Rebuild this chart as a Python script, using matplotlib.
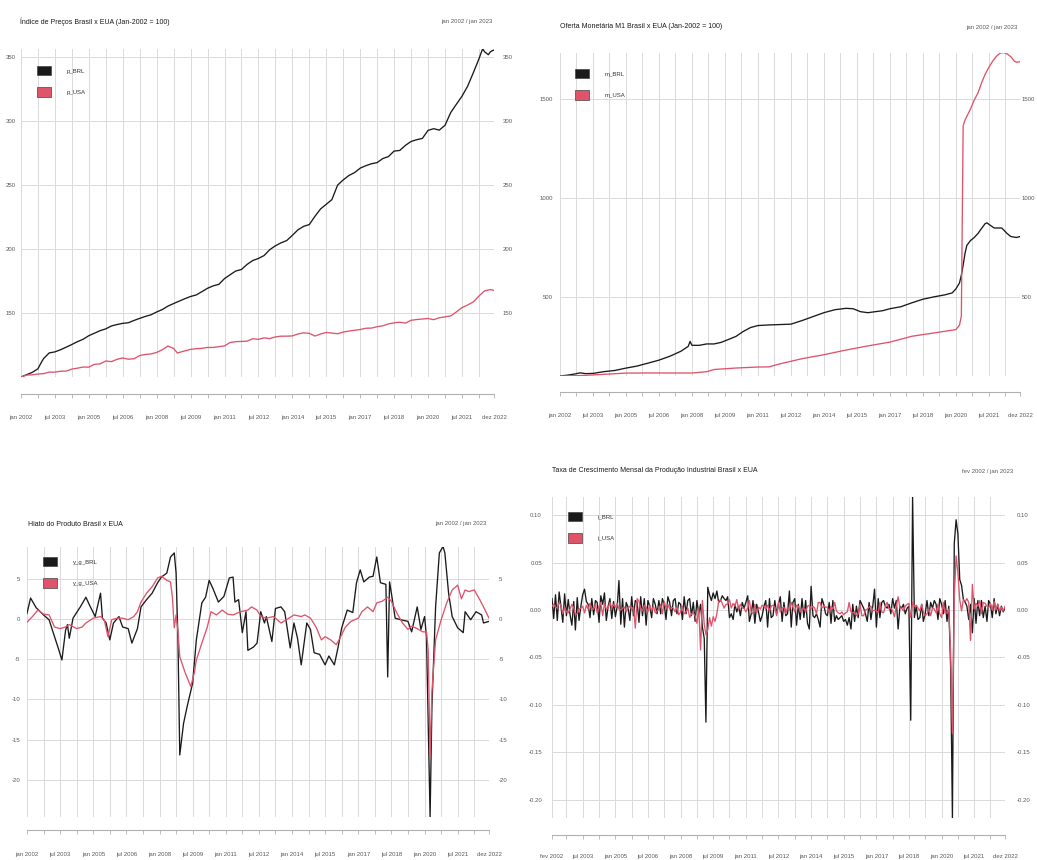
import matplotlib
matplotlib.use("Agg")
import matplotlib.pyplot as plt
import matplotlib.dates as mdates
from matplotlib import font_manager as fm
from matplotlib.patches import Patch
import pandas as pd

# ---------------------------------------------------------------- data
MESES = ['jan', 'fev', 'mar', 'abr', 'mai', 'jun', 'jul', 'ago', 'set', 'out', 'nov', 'dez']

# Panel 1: price indices (month index from jan 2002, value)
p_BRL = [(0, 100), (3, 101.8), (6, 103.6), (9, 106.4), (11, 111.9), (12, 114.4), (15, 118.8), (18, 119.6),
         (21, 121.3), (24, 123.3), (27, 125.4), (30, 127.6), (33, 129.5), (36, 132.3), (39, 134.2), (42, 136.2),
         (45, 137.6), (48, 139.9), (51, 141.0), (54, 141.9), (57, 142.4), (60, 144.2), (63, 145.8), (66, 147.3),
         (69, 148.6), (72, 150.8), (75, 152.7), (78, 155.4), (81, 157.4), (84, 159.3), (87, 161.2), (90, 162.9),
         (93, 164.1), (96, 166.7), (99, 169.3), (102, 171.2), (105, 172.4), (108, 176.9), (111, 179.9),
         (114, 182.8), (117, 184.0), (120, 188.0), (123, 191.0), (126, 192.6), (129, 194.9), (132, 199.5),
         (135, 202.5), (138, 204.8), (141, 206.6), (144, 210.7), (147, 215.0), (150, 217.7), (153, 219.1),
         (156, 225.6), (159, 231.3), (162, 234.9), (165, 238.6), (168, 249.9), (171, 254.0), (174, 257.4),
         (177, 259.7), (180, 263.2), (183, 265.1), (186, 266.6), (189, 267.5), (192, 270.7), (195, 272.2),
         (198, 276.5), (201, 277.0), (204, 281.0), (207, 284.0), (210, 285.4), (213, 286.4), (216, 292.7),
         (219, 294.0), (222, 292.9), (225, 296.7), (228, 306.6), (231, 313.0), (234, 319.3), (237, 327.2),
         (240, 337.7), (243, 348.5), (245, 356.5), (246, 354.1), (248, 351.8), (249, 353.9), (250, 354.9),
         (251, 355.4)]
p_USA = [(0, 100), (3, 101.5), (6, 101.7), (9, 102.3), (12, 102.6), (15, 103.8), (18, 103.8), (21, 104.5),
         (24, 104.6), (27, 106.2), (30, 106.9), (33, 107.8), (36, 107.7), (39, 109.9), (42, 110.3), (45, 112.5),
         (48, 112.0), (51, 113.8), (54, 114.9), (57, 113.9), (60, 114.3), (63, 116.7), (66, 117.6), (69, 118.0),
         (72, 119.2), (75, 121.3), (78, 124.2), (81, 122.3), (83, 118.7), (84, 119.2), (87, 120.4), (90, 121.6),
         (93, 122.1), (96, 122.4), (99, 123.1), (102, 123.1), (105, 123.7), (108, 124.3), (111, 127.0),
         (114, 127.6), (117, 127.8), (120, 128.0), (123, 129.9), (126, 129.4), (129, 130.6), (132, 130.0),
         (135, 131.3), (138, 131.9), (141, 131.9), (144, 132.1), (147, 133.6), (150, 134.5), (153, 134.1),
         (156, 132.0), (159, 133.6), (162, 134.8), (165, 134.3), (168, 133.8), (171, 135.1), (174, 135.9),
         (177, 136.5), (180, 137.1), (183, 138.1), (186, 138.2), (189, 139.3), (192, 140.0), (195, 141.5),
         (198, 142.3), (201, 142.8), (204, 142.1), (207, 144.3), (210, 144.9), (213, 145.3), (216, 145.7),
         (219, 144.8), (222, 146.3), (225, 147.0), (228, 147.7), (231, 150.8), (234, 154.2), (237, 156.2),
         (240, 158.7), (243, 163.2), (246, 167.3), (249, 168.3), (251, 167.6)]

# Panel 2: M1 money supply
m_BRL = [(0, 100), (4, 104), (8, 110), (11, 116), (14, 112), (18, 113), (24, 122), (30, 128), (36, 140),
         (42, 150), (48, 165), (54, 180), (60, 200), (66, 225), (70, 250), (71, 275), (72, 255), (76, 255),
         (80, 262), (84, 262), (88, 270), (92, 285), (96, 300), (100, 325), (104, 345), (108, 355), (114, 358),
         (120, 360), (126, 362), (132, 380), (138, 400), (144, 420), (150, 435), (156, 442), (160, 440),
         (164, 425), (168, 420), (172, 425), (176, 430), (180, 440), (186, 450), (192, 470), (198, 488),
         (204, 500), (210, 510), (214, 520), (216, 540), (218, 570), (219, 610), (220, 660), (221, 720),
         (222, 760), (224, 785), (226, 800), (228, 820), (230, 845), (232, 870), (233, 874), (235, 860),
         (237, 848), (241, 848), (244, 820), (246, 805), (249, 800), (251, 805)]
m_USA = [(0, 100), (12, 102.5), (24, 108.4), (36, 114.7), (48, 115.5), (60, 115.1), (72, 115.1), (80, 121.8),
         (84, 132.8), (96, 140.3), (108, 145.4), (114, 146.0), (120, 161.3), (132, 187.4), (144, 207.6),
         (156, 231.1), (168, 252.1), (180, 271.4), (192, 300.8), (204, 317.6), (216, 334.5), (218, 357),
         (219, 402.5), (220, 1365), (221, 1394), (224, 1450), (226, 1495), (228, 1530), (230, 1580),
         (232, 1625), (234, 1660), (236, 1690), (238, 1715), (240, 1731), (242, 1735), (244, 1728),
         (246, 1714), (248, 1690), (249, 1686), (251, 1688)]

# Panel 3: output gap
y_g_BRL = [(0, 0.7), (2, 2.6), (5, 1.4), (9, 0.5), (12, -0.1), (15, -2.2), (17, -3.6), (19, -5.1), (21, -1.4),
           (22, -0.7), (23, -2.4), (25, 0.1), (29, 1.5), (32, 2.7), (34, 1.7), (37, 0.3), (40, 3.2), (41, 0.1),
           (43, -0.5), (45, -2.6), (47, -0.5), (50, 0.3), (52, -1.0), (55, -1.2), (57, -3.0), (60, -1.2),
           (62, 1.5), (65, 2.4), (68, 3.2), (71, 4.5), (73, 5.2), (76, 5.7), (78, 7.7), (80, 8.2), (81, 5.7),
           (82, -2.6), (83, -16.9), (85, -13.0), (87, -10.9), (90, -8.0), (92, -2.6), (95, 2.0), (97, 2.7),
           (99, 4.8), (101, 3.8), (104, 2.1), (107, 2.8), (110, 5.1), (112, 5.2), (113, 2.1), (115, 2.4),
           (117, -1.7), (119, 0.9), (120, -3.9), (123, -3.5), (125, -3.0), (127, 0.9), (129, -0.5), (130, 0.3),
           (133, -2.8), (135, 1.3), (138, 1.5), (140, 0.9), (143, -3.6), (145, -0.5), (147, -2.4), (149, -5.7),
           (152, -0.5), (154, -1.3), (156, -4.2), (159, -4.4), (162, -5.7), (164, -4.6), (167, -5.7),
           (169, -3.5), (171, -1.1), (174, 1.1), (177, 0.8), (179, 4.5), (181, 6.1), (183, 4.6), (186, 5.2),
           (188, 5.3), (190, 7.7), (192, 4.5), (195, 4.3), (196, -7.2), (197, 4.6), (198, 3.2), (200, 0.1),
           (203, -0.1), (207, -0.3), (209, -1.6), (212, 1.5), (214, -1.3), (216, 0.3), (217, -2.2),
           (219, -24.6), (220, -10.9), (222, 1.5), (224, 8.2), (226, 9.0), (227, 8.2), (229, 3.2), (231, 0.3),
           (234, -1.1), (237, -1.7), (238, 0.9), (241, -0.1), (244, 0.9), (247, 0.5), (248, -0.5), (251, -0.3)]
y_g_USA = [(0, -0.4), (3, 0.3), (6, 1.1), (9, 0.6), (12, 0.5), (15, -1.0), (18, -1.2), (21, -1.0), (23, -0.7),
           (27, -1.2), (30, -1.0), (32, -0.5), (36, 0.1), (40, 0.3), (42, -0.1), (44, -2.2), (46, -0.1),
           (49, 0.1), (52, 0.1), (55, -0.1), (58, 0.3), (60, 0.9), (62, 2.1), (65, 3.2), (68, 4.0), (71, 5.1),
           (73, 5.3), (76, 4.8), (78, 4.6), (79, 2.7), (80, -1.1), (81, 0.5), (82, -1.5), (83, -4.7),
           (86, -6.7), (89, -8.4), (91, -6.6), (92, -5.1), (95, -3.0), (98, -1.0), (100, 0.9), (103, 0.5),
           (106, 1.1), (109, 0.6), (112, 0.5), (116, 0.9), (120, 1.1), (122, 1.5), (125, 1.1), (127, 0.3),
           (130, 0.1), (134, 0.3), (138, -0.5), (141, -0.1), (145, 0.5), (149, 0.3), (151, 0.5), (154, 0.1),
           (157, -1.0), (160, -2.6), (162, -2.2), (165, -2.6), (168, -3.2), (170, -2.4), (173, -1.0),
           (176, -0.3), (180, 0.1), (182, 0.9), (185, 1.5), (188, 0.9), (190, 2.0), (193, 2.2), (196, 2.7),
           (198, 2.2), (201, 0.7), (204, -0.5), (207, -1.3), (209, -0.9), (212, -1.2), (215, -1.6),
           (217, -1.6), (218, -3.9), (219, -17.2), (220, -9.0), (222, -2.6), (225, -0.1), (228, 2.0),
           (231, 3.6), (234, 4.2), (236, 2.5), (238, 3.6), (240, 3.4), (243, 3.6), (246, 2.4), (248, 1.5),
           (251, 0.1)]

# Panel 4: monthly growth of industrial production, fev 2002 .. dez 2022 (one value per month)
i_BRL = [
    0.012, -0.009, 0.016, -0.011, 0.019, 0.004, -0.013, 0.017, -0.006, 0.011, -0.005,               # 2002
    -0.016, 0.009, -0.021, 0.013, -0.011, 0.004, 0.016, 0.022, 0.009, 0.006, -0.008, 0.012,         # 2003
    -0.005, 0.010, 0.008, -0.013, 0.015, 0.006, 0.018, -0.011, 0.004, 0.012, -0.009, 0.009,         # 2004
    -0.007, 0.004, 0.031, -0.015, 0.012, -0.018, 0.008, 0.003, -0.011, 0.014, -0.006, 0.010,        # 2005
    0.008, -0.013, 0.014, -0.006, 0.012, -0.016, 0.010, 0.004, -0.008, 0.012, 0.006, -0.004,        # 2006
    0.010, -0.004, 0.012, 0.006, -0.010, 0.014, 0.008, -0.006, 0.010, 0.012, -0.004, 0.008,         # 2007
    0.006, -0.010, 0.014, -0.004, 0.010, 0.012, -0.006, 0.008, -0.012, 0.010, -0.004, 0.006,        # 2008
    -0.018, -0.030, -0.118, 0.024, 0.016, 0.010, 0.018, 0.012, 0.020, 0.008, 0.010, 0.015,         # 2009
    0.012, 0.010, 0.014, -0.008, -0.004, -0.010, 0.006, -0.002, 0.004, -0.006, 0.008, 0.002,        # 2010
    0.008, 0.015, -0.012, -0.004, 0.010, -0.014, 0.006, -0.002, -0.012, -0.006, 0.004, 0.010,       # 2011
    -0.018, 0.012, -0.008, -0.006, 0.010, -0.004, 0.006, 0.014, -0.012, 0.008, -0.006, -0.004,      # 2012
    0.020, -0.018, 0.008, 0.012, -0.016, 0.006, -0.010, 0.012, -0.008, 0.010, -0.014, -0.020,       # 2013
    0.025, -0.006, -0.008, -0.004, -0.010, -0.018, 0.012, 0.006, -0.004, -0.006, 0.008, -0.014,     # 2014
    0.010, -0.012, -0.006, -0.010, -0.008, -0.006, -0.012, -0.010, -0.016, -0.008, -0.020, 0.006,   # 2015
    -0.012, 0.004, -0.008, 0.010, 0.006, 0.002, -0.004, -0.012, 0.008, -0.010, 0.004, 0.022,        # 2016
    -0.018, 0.012, -0.008, 0.008, 0.010, 0.004, 0.002, 0.006, -0.004, 0.012, 0.002, 0.010,         # 2017
    -0.020, 0.004, 0.002, 0.006, -0.004, 0.002, 0.004, -0.116, 0.119, -0.008, 0.004, -0.010,        # 2018
    -0.008, 0.006, -0.012, -0.004, 0.010, -0.006, 0.008, 0.002, 0.010, 0.006, -0.010, 0.012,        # 2019
    0.006, -0.004, 0.010, -0.012, 0.004, -0.060, -0.219, 0.070, 0.095, 0.080, 0.032, 0.026,         # 2020
    0.011, 0.008, 0.004, -0.010, 0.006, -0.024, 0.012, -0.014, 0.010, -0.006, 0.010, -0.008,        # 2021
    0.004, -0.012, 0.010, 0.006, -0.008, 0.012, -0.004, 0.006, -0.006, 0.004, -0.002, 0.002,        # 2022
]
i_USA = [
    0.004, 0.006, 0.003, 0.002, 0.008, 0.005, -0.004, 0.003, -0.002, -0.003, 0.001,                # 2002
    0.006, 0.002, -0.005, -0.004, 0.001, 0.002, 0.004, -0.003, 0.005, 0.001, 0.007, 0.001,         # 2003
    0.001, 0.006, -0.003, 0.004, 0.008, -0.006, 0.007, 0.001, 0.002, 0.008, 0.002, 0.006,          # 2004
    0.003, 0.007, 0.001, 0.000, 0.002, 0.003, -0.002, 0.002, 0.004, 0.001, 0.003, -0.019,          # 2005
    0.012, 0.009, 0.002, -0.001, 0.005, 0.003, -0.002, 0.005, -0.001, 0.004, -0.003, -0.001,       # 2006
    0.001, 0.006, -0.004, 0.009, 0.002, 0.006, 0.001, 0.003, 0.002, -0.002, 0.003, -0.005,         # 2007
    -0.002, 0.004, -0.004, -0.002, 0.002, -0.008, -0.004, -0.003, -0.006, -0.014, 0.002, -0.042,   # 2008
    0.010, -0.015, -0.026, -0.021, -0.008, -0.017, -0.007, -0.012, -0.004, 0.009, 0.011, 0.007,    # 2009
    0.002, 0.006, 0.006, 0.011, 0.002, 0.007, 0.004, 0.011, 0.001, 0.006, 0.002, 0.002,            # 2010
    -0.002, 0.002, 0.010, -0.002, -0.004, 0.006, -0.003, 0.003, 0.001, 0.005, 0.004, 0.001,        # 2011
    0.005, -0.002, 0.004, 0.005, 0.003, -0.006, 0.008, -0.002, 0.002, 0.003, -0.004, 0.003,        # 2012
    0.000, 0.008, 0.003, -0.002, 0.005, 0.004, -0.002, 0.001, 0.002, -0.002, 0.004, 0.005,         # 2013
    0.001, 0.004, 0.002, -0.004, 0.008, 0.008, 0.002, 0.004, 0.003, 0.003, -0.003, 0.004,          # 2014
    0.001, 0.008, -0.001, -0.003, -0.004, -0.002, -0.005, -0.003, -0.002, 0.008, -0.002, -0.003,   # 2015
    -0.002, -0.006, -0.004, 0.006, -0.006, -0.006, 0.000, 0.001, 0.003, 0.004, -0.001, 0.000,      # 2016
    -0.001, -0.003, 0.008, -0.002, -0.003, 0.004, 0.008, 0.001, 0.002, -0.001, -0.007, 0.004,      # 2017
    0.014, 0.002, 0.002, -0.001, 0.004, 0.006, 0.007, -0.008, 0.008, 0.004, 0.005, 0.002,          # 2018
    -0.001, 0.006, -0.002, -0.006, -0.004, 0.001, -0.006, 0.002, 0.001, -0.003, 0.006, -0.004,     # 2019
    -0.008, 0.008, -0.003, -0.003, 0.001, -0.045, -0.130, 0.014, 0.057, 0.039, 0.011, -0.001,      # 2020
    0.011, 0.009, 0.012, 0.008, -0.032, 0.027, 0.001, 0.007, 0.004, 0.010, -0.004, 0.008,          # 2021
    0.007, 0.004, 0.002, 0.007, 0.000, 0.009, 0.000, 0.006, -0.001, 0.003, -0.001, 0.004,          # 2022
]

# tick months (from jan 2002) and axis ticks
TICK_MONTHS = [9 * k for k in range(28)] + [251]
TICK_MONTHS_P4 = [1] + [9 * k for k in range(1, 28)] + [251]
YT1 = [150, 200, 250, 300, 350]
YT2 = [500, 1000, 1500]
YT3 = [5, 0, -5, -10, -15, -20]
YT4 = [0.10, 0.05, 0.00, -0.05, -0.10, -0.15, -0.20]

# ---------------------------------------------------------------- style
W, H, DPI = 1037, 860, 100
names = {f.name for f in fm.fontManager.ttflist}
if 'Liberation Sans Narrow' in names:
    FAM = ['Liberation Sans Narrow', 'DejaVu Sans']
    FS_T, FS_S = 6.0, 5.0
else:
    FAM = ['Liberation Sans', 'DejaVu Sans']
    FS_T, FS_S = 5.0, 4.3
plt.rcParams['font.family'] = FAM

RED = '#DF536B'
BLK = '#1a1a1a'
GRID = '#dadada'
TXT = '#595959'
PT = 72.0 / DPI   # points per pixel

START = pd.Timestamp('2002-01-01')


def mnum(m):
    return mdates.date2num((START + pd.DateOffset(months=int(m))).to_pydatetime())


def mlabel(m):
    d = START + pd.DateOffset(months=int(m))
    return f"{MESES[d.month - 1]} {d.year}"


def unzip(pairs):
    return [mnum(m) for m, _ in pairs], [v for _, v in pairs]


fig = plt.figure(figsize=(W / DPI, H / DPI), dpi=DPI)
fig.patch.set_facecolor('white')


def panel(rect, series, labels, yticks, yfmt, ticks, title, rng, title_xy, rng_xy,
          leg_xy, axis_off, xpad, lpad, rpad):
    l, r, t, b = rect
    ax = fig.add_axes([l / W, 1 - b / H, (r - l) / W, (b - t) / H])
    allv = []
    for (xs, ys), col in zip(series, [BLK, RED]):
        ax.plot(xs, ys, color=col, lw=0.95, solid_joinstyle='round', zorder=3)
        allv += ys
    xs0 = series[0][0]
    ax.set_xlim(min(xs0), max(xs0))
    ax.set_ylim(min(allv), max(allv))
    for s in ['left', 'right', 'top']:
        ax.spines[s].set_visible(False)
    ax.spines['bottom'].set_position(('outward', axis_off * PT))
    ax.spines['bottom'].set_color('#b0b0b0')
    ax.spines['bottom'].set_linewidth(0.8)
    ax.set_xticks([mnum(m) for m in ticks])
    xl = []
    for i, m in enumerate(ticks):
        xl.append(mlabel(m) if (i % 2 == 0 or i == len(ticks) - 1) else '')
    ax.set_xticklabels(xl)
    ax.tick_params(axis='x', direction='out', length=4 * PT, width=0.6, color='#b0b0b0',
                   pad=xpad * PT, labelsize=FS_S, labelcolor=TXT)
    ax.set_yticks(yticks)
    ax.set_yticklabels([yfmt(v) for v in yticks])
    ax.tick_params(axis='y', length=0, pad=lpad * PT, labelsize=FS_S, labelcolor=TXT)
    ax.grid(True, color=GRID, lw=0.7)
    ax.set_axisbelow(True)
    sec = ax.secondary_yaxis('right')
    sec.set_yticks(yticks)
    sec.set_yticklabels([yfmt(v) for v in yticks])
    sec.tick_params(axis='y', length=0, pad=rpad * PT, labelsize=FS_S, labelcolor=TXT)
    sec.spines['right'].set_visible(False)
    fs_px = FS_S / PT
    handles = [Patch(facecolor=BLK, edgecolor='#444444', lw=0.5),
               Patch(facecolor=RED, edgecolor='#444444', lw=0.5)]
    ax.legend(handles, labels, loc='upper left',
              bbox_to_anchor=(leg_xy[0] / W, 1 - leg_xy[1] / H), bbox_transform=fig.transFigure,
              frameon=False, borderpad=0, borderaxespad=0, fontsize=FS_S,
              handlelength=14 / fs_px, handleheight=12 / fs_px, labelspacing=12 / fs_px,
              handletextpad=16 / fs_px, labelcolor='#333333')
    fig.text(title_xy[0] / W, 1 - title_xy[1] / H, title, ha='left', va='center',
             fontsize=FS_T, color='#1a1a1a')
    fig.text(rng_xy[0] / W, 1 - rng_xy[1] / H, rng, ha='right', va='center',
             fontsize=FS_S, color=TXT)
    return ax


fmt_int = lambda v: f"{v:g}"
fmt_2 = lambda v: f"{v:.2f}"

panel((21, 494, 48.7, 377), [unzip(p_BRL), unzip(p_USA)], ['p_BRL', 'p_USA'], YT1, fmt_int,
      TICK_MONTHS, 'Índice de Preços Brasil x EUA (Jan-2002 = 100)', 'jan 2002 / jan 2023',
      (20, 22), (493, 22), (37, 66), 17, 17, 5, 9)

panel((560, 1020, 52.5, 376), [unzip(m_BRL), unzip(m_USA)], ['m_BRL', 'm_USA'], YT2, fmt_int,
      TICK_MONTHS, 'Oferta Monetária M1 Brasil x EUA (Jan-2002 = 100)', 'jan 2002 / jan 2023',
      (560, 27), (1018, 27), (575, 69), 16, 17, 7, 2)

panel((27, 489, 546.5, 817), [unzip(y_g_BRL), unzip(y_g_USA)], ['y_g_BRL', 'y_g_USA'], YT3, fmt_int,
      TICK_MONTHS, 'Hiato do Produto Brasil x EUA', 'jan 2002 / jan 2023',
      (28, 524), (487, 524), (43, 557), 13, 18, 7, 10)

p4_x = [mnum(m) for m in range(1, 1 + len(i_BRL))]
panel((552, 1005, 497, 818), [(p4_x, i_BRL), (p4_x, i_USA)], ['i_BRL', 'i_USA'], YT4, fmt_2,
      TICK_MONTHS_P4, 'Taxa de Crescimento Mensal da Produção Industrial Brasil x EUA', 'fev 2002 / jan 2023',
      (552, 471), (1013, 471), (568, 512), 17, 15, 10, 12)

fig.savefig('out.png', dpi=DPI, facecolor='white')
